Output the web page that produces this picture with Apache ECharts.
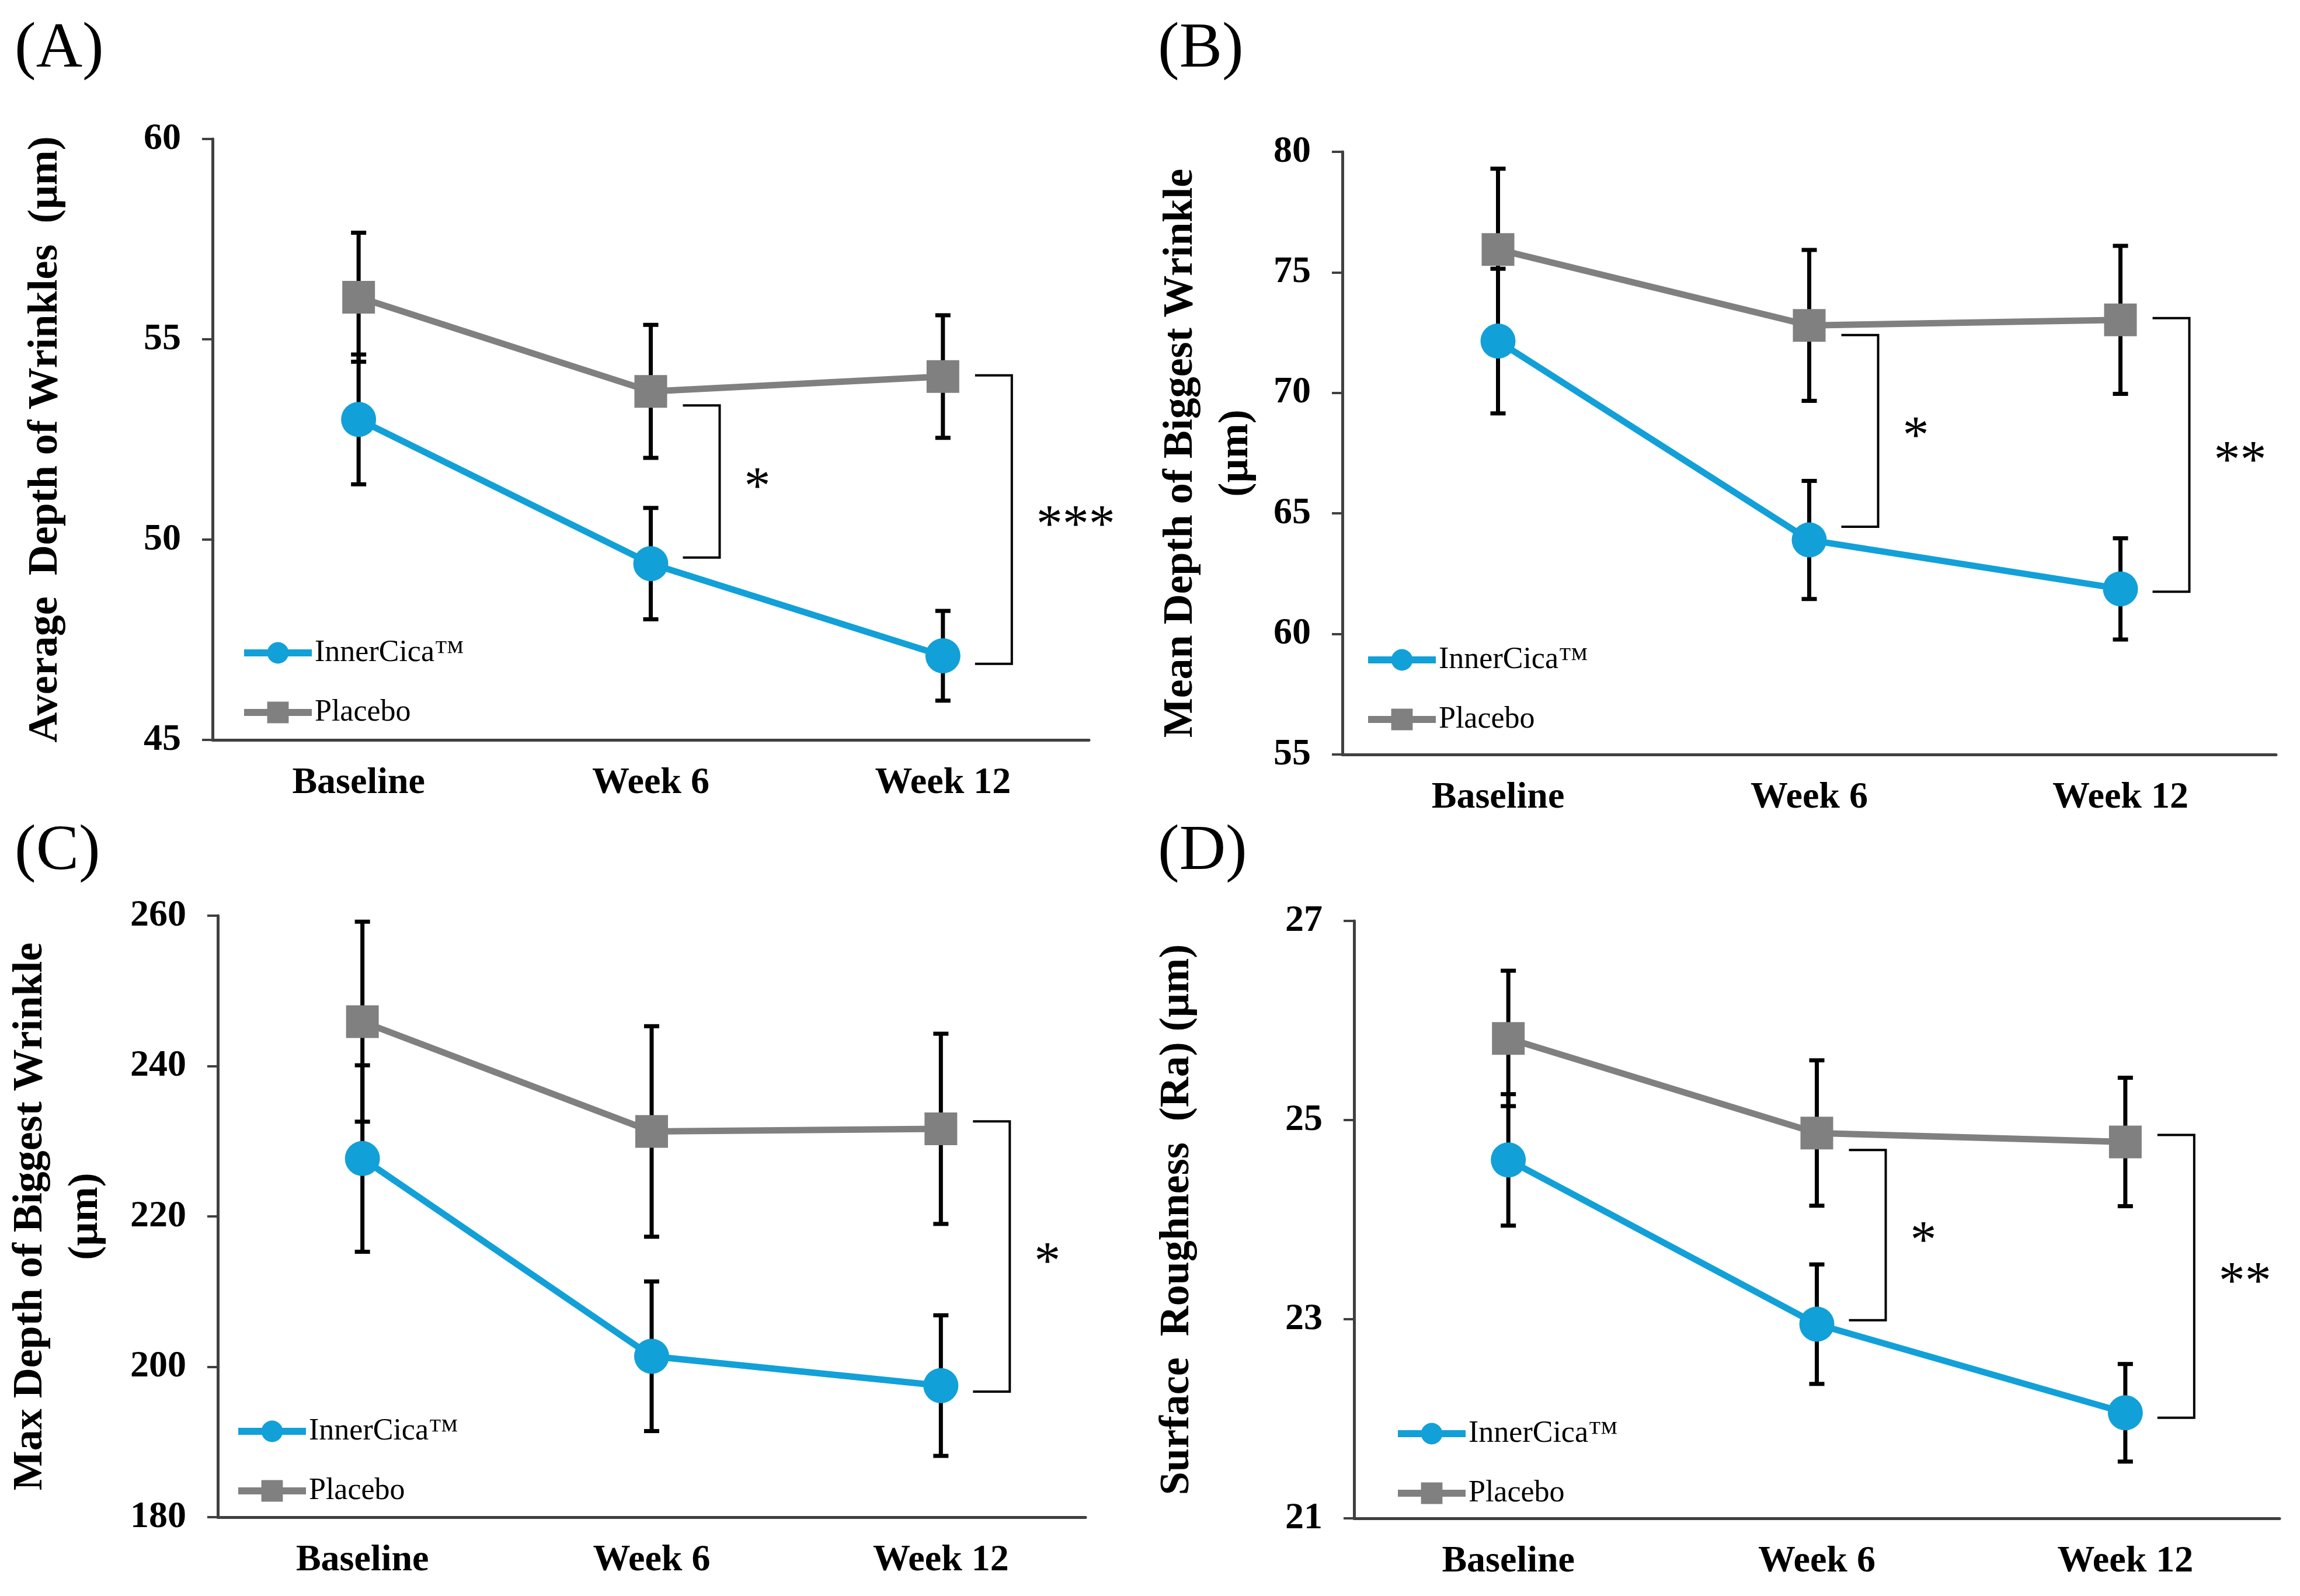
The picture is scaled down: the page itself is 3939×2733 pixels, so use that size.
<!DOCTYPE html>
<html>
<head>
<meta charset="utf-8">
<script src="https://cdn.jsdelivr.net/npm/echarts@6/dist/echarts.min.js"></script>
<style>
html, body { margin: 0; padding: 0; background: #fff; }
#main { width: 3939px; height: 2733px; }
</style>
</head>
<body>
<div id="main"></div>
<script>
const categories = ['Baseline', 'Week 6', 'Week 12'];
const seriesNames = ['InnerCica™', 'Placebo'];

// (A) average depth of wrinkles
const innerA = [53.0, 49.4, 47.1];
const innerAErr = [1.62, 1.39, 1.12];
const placeboA = [56.05, 53.7, 54.07];
const placeboAErr = [1.61, 1.66, 1.53];
const bracketsA = [[1, 53.35, 49.55, '*'], [2, 54.1, 46.9, '***']];

// (B) mean depth of biggest wrinkle
const innerB = [72.15, 63.9, 61.87];
const innerBErr = [3.0, 2.45, 2.1];
const placeboB = [75.95, 72.8, 73.03];
const placeboBErr = [3.35, 3.13, 3.07];
const bracketsB = [[1, 72.4, 64.45, '*'], [2, 73.1, 61.75, '**']];

// (C) max depth of biggest wrinkle
const innerC = [227.7, 201.4, 197.5];
const innerCErr = [12.4, 9.95, 9.35];
const placeboC = [245.9, 231.3, 231.65];
const placeboCErr = [13.3, 14.0, 12.65];
const bracketsC = [[2, 232.65, 196.7, '*']];

// (D) surface roughness
const innerD = [24.6, 22.95, 22.06];
const innerDErr = [0.66, 0.6, 0.49];
const placeboD = [25.82, 24.87, 24.78];
const placeboDErr = [0.68, 0.73, 0.645];
const bracketsD = [[1, 24.7, 22.99, '*'], [2, 24.85, 22.01, '**']];

const FONT = "'Liberation Serif', 'Times New Roman', serif";
const BLUE = '#12a0d8';
const GRAY = '#808080';
const AXIS = '#404040';

const panels = [
  { tag: '(A)', tagPos: [25, 30], grid: { left: 364, top: 238, width: 1501, height: 1029 },
    min: 45, max: 60, interval: 5, yName: 'Average  Depth of Wrinkles  (µm)', nameGap: 238,
    legend: [412, 1092], inner: innerA, innerErr: innerAErr, placebo: placeboA, placeboErr: placeboAErr, brackets: bracketsA },
  { tag: '(B)', tagPos: [1983, 30], grid: { left: 2299, top: 260, width: 1599, height: 1032 },
    min: 55, max: 80, interval: 5, yName: 'Mean Depth of Biggest Wrinkle\n(µm)', nameGap: 134,
    legend: [2337, 1104], inner: innerB, innerErr: innerBErr, placebo: placeboB, placeboErr: placeboBErr, brackets: bracketsB },
  { tag: '(C)', tagPos: [25, 1404], grid: { left: 373, top: 1568, width: 1486, height: 1030 },
    min: 180, max: 260, interval: 20, yName: 'Max Depth of Biggest Wrinkle\n(µm)', nameGap: 178,
    legend: [402, 2425], inner: innerC, innerErr: innerCErr, placebo: placeboC, placeboErr: placeboCErr, brackets: bracketsC },
  { tag: '(D)', tagPos: [1983, 1404], grid: { left: 2319, top: 1577, width: 1585, height: 1023 },
    min: 21, max: 27, interval: 2, yName: 'Surface  Roughness  (Ra) (µm)', nameGap: 255,
    legend: [2388, 2429], inner: innerD, innerErr: innerDErr, placebo: placeboD, placeboErr: placeboDErr, brackets: bracketsD }
];

function errData(mean, err) {
  return mean.map((m, j) => [j, m - err[j], m + err[j]]);
}

function renderErr(params, api) {
  const hi = api.coord([api.value(0), api.value(2)]);
  const lo = api.coord([api.value(0), api.value(1)]);
  const w = 13;
  const st = { stroke: '#000', lineWidth: 7 };
  return {
    type: 'group',
    children: [
      { type: 'line', shape: { x1: hi[0], y1: hi[1], x2: lo[0], y2: lo[1] }, style: st },
      { type: 'line', shape: { x1: hi[0] - w, y1: hi[1], x2: hi[0] + w, y2: hi[1] }, style: st },
      { type: 'line', shape: { x1: lo[0] - w, y1: lo[1], x2: lo[0] + w, y2: lo[1] }, style: st }
    ]
  };
}

function bracketRenderer(brackets) {
  return function (params, api) {
    const top = api.coord([api.value(0), api.value(1)]);
    const bot = api.coord([api.value(0), api.value(2)]);
    const x0 = top[0] + 55, x1 = top[0] + 118;
    return {
      type: 'group',
      children: [
        { type: 'polyline', shape: { points: [[x0, top[1]], [x1, top[1]], [x1, bot[1]], [x0, bot[1]]] },
          style: { stroke: '#000', lineWidth: 4, fill: 'none' } },
        { type: 'text', x: x1 + 42, y: (top[1] + bot[1]) / 2 + 14,
          style: { text: brackets[params.dataIndex][3], fontSize: 90, fontFamily: FONT, fill: '#000',
                   align: 'left', verticalAlign: 'middle' } }
      ]
    };
  };
}

const option = {
  animation: false,
  backgroundColor: '#fff',
  title: [],
  legend: [],
  grid: [],
  xAxis: [],
  yAxis: [],
  series: []
};

panels.forEach((p, i) => {
  option.title.push({
    text: p.tag, left: p.tagPos[0], top: p.tagPos[1], padding: 0,
    textStyle: { fontFamily: FONT, fontSize: 110, fontWeight: 'normal', color: '#000' }
  });
  option.grid.push(p.grid);
  option.xAxis.push({
    type: 'category', gridIndex: i, data: categories,
    axisLine: { lineStyle: { color: AXIS, width: 5 } },
    axisTick: { show: false },
    axisLabel: { fontFamily: FONT, fontSize: 64, fontWeight: 'bold', color: '#000', margin: 42 }
  });
  option.yAxis.push({
    type: 'value', gridIndex: i, min: p.min, max: p.max, interval: p.interval,
    name: p.yName, nameLocation: 'middle', nameGap: p.nameGap,
    nameTextStyle: { fontFamily: FONT, fontSize: 72, fontWeight: 'bold', color: '#000', lineHeight: 95 },
    axisLine: { show: true, lineStyle: { color: AXIS, width: 5 } },
    axisTick: { show: true, length: 18, lineStyle: { color: AXIS, width: 4 } },
    splitLine: { show: false },
    axisLabel: { fontFamily: FONT, fontSize: 64, fontWeight: 'bold', color: '#000', margin: 54 }
  });
  option.legend.push({
    data: seriesNames, orient: 'vertical', left: p.legend[0], top: p.legend[1], padding: 0,
    itemWidth: 116, itemHeight: 46, itemGap: 50,
    lineStyle: { width: 12 },
    textStyle: { fontFamily: FONT, fontSize: 52, color: '#000' }
  });
  option.series.push(
    { type: 'custom', xAxisIndex: i, yAxisIndex: i, z: 2, renderItem: renderErr,
      data: errData(p.placebo, p.placeboErr), encode: { x: 0, y: [1, 2] } },
    { type: 'custom', xAxisIndex: i, yAxisIndex: i, z: 2, renderItem: renderErr,
      data: errData(p.inner, p.innerErr), encode: { x: 0, y: [1, 2] } },
    { name: seriesNames[1], type: 'line', xAxisIndex: i, yAxisIndex: i, z: 3, data: p.placebo,
      symbol: 'rect', symbolSize: 56, lineStyle: { color: GRAY, width: 11 }, itemStyle: { color: GRAY } },
    { name: seriesNames[0], type: 'line', xAxisIndex: i, yAxisIndex: i, z: 3, data: p.inner,
      symbol: 'circle', symbolSize: 60, lineStyle: { color: BLUE, width: 11 }, itemStyle: { color: BLUE } },
    { type: 'custom', xAxisIndex: i, yAxisIndex: i, z: 4, renderItem: bracketRenderer(p.brackets),
      data: p.brackets.map(b => [b[0], b[1], b[2]]), encode: { x: 0, y: [1, 2] } }
  );
});

const myChart = echarts.init(document.getElementById('main'));
myChart.setOption(option);
</script>
</body>
</html>
